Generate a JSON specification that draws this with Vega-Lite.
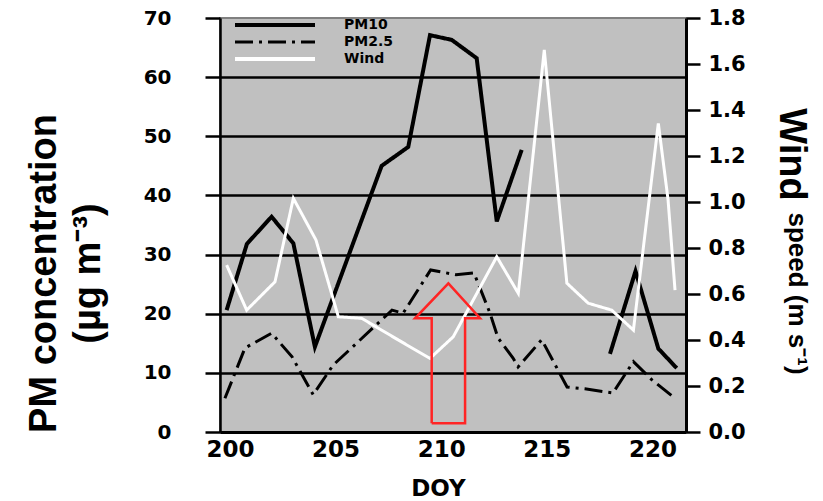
{
  "$schema": "https://vega.github.io/schema/vega-lite/v6.json",
  "width": 466,
  "height": 414,
  "autosize": "none",
  "padding": {"left": 220, "top": 18, "right": 137, "bottom": 69},
  "background": "white",
  "config": {
    "view": {"fill": "#c0c0c0", "stroke": "#808080", "strokeWidth": 2},
    "axis": {"labelColor": "black", "titleColor": "black", "domainColor": "black", "tickColor": "black", "labelFont": "DejaVu Sans", "labelFontWeight": "bold"}
  },
  "datasets": {
    "series": [
      {"series": "PM10", "doy": 199.84, "value": 20.6},
      {"series": "PM10", "doy": 200.8, "value": 31.8},
      {"series": "PM10", "doy": 201.97, "value": 36.4},
      {"series": "PM10", "doy": 203.0, "value": 31.9},
      {"series": "PM10", "doy": 204.02, "value": 14.4},
      {"series": "PM10", "doy": 207.18, "value": 45.0},
      {"series": "PM10", "doy": 208.44, "value": 48.2},
      {"series": "PM10", "doy": 209.47, "value": 67.1},
      {"series": "PM10", "doy": 210.5, "value": 66.3},
      {"series": "PM10", "doy": 211.68, "value": 63.2},
      {"series": "PM10", "doy": 212.63, "value": 35.6},
      {"series": "PM10", "doy": 213.81, "value": 47.7},
      {"series": "PM10", "doy": 215.9, "value": null},
      {"series": "PM10", "doy": 217.99, "value": 13.2},
      {"series": "PM10", "doy": 219.2, "value": 27.2},
      {"series": "PM10", "doy": 220.28, "value": 14.1},
      {"series": "PM10", "doy": 221.15, "value": 10.8},
      {"series": "PM2.5", "doy": 199.76, "value": 5.7},
      {"series": "PM2.5", "doy": 200.71, "value": 14.2},
      {"series": "PM2.5", "doy": 201.97, "value": 16.7},
      {"series": "PM2.5", "doy": 202.94, "value": 12.7},
      {"series": "PM2.5", "doy": 203.94, "value": 6.3},
      {"series": "PM2.5", "doy": 204.88, "value": 11.3},
      {"series": "PM2.5", "doy": 207.67, "value": 20.6},
      {"series": "PM2.5", "doy": 208.2, "value": 20.1},
      {"series": "PM2.5", "doy": 209.5, "value": 27.4},
      {"series": "PM2.5", "doy": 210.7, "value": 26.6},
      {"series": "PM2.5", "doy": 211.55, "value": 26.9},
      {"series": "PM2.5", "doy": 212.31, "value": 20.1},
      {"series": "PM2.5", "doy": 212.69, "value": 15.9},
      {"series": "PM2.5", "doy": 213.4, "value": 12.5},
      {"series": "PM2.5", "doy": 213.64, "value": 11.0},
      {"series": "PM2.5", "doy": 214.76, "value": 15.6},
      {"series": "PM2.5", "doy": 215.96, "value": 7.6},
      {"series": "PM2.5", "doy": 216.8, "value": 7.3},
      {"series": "PM2.5", "doy": 218.13, "value": 6.6},
      {"series": "PM2.5", "doy": 219.1, "value": 11.9},
      {"series": "PM2.5", "doy": 219.98, "value": 8.8},
      {"series": "PM2.5", "doy": 221.07, "value": 5.7},
      {"series": "Wind", "doy": 199.84, "value": 0.726},
      {"series": "Wind", "doy": 200.79, "value": 0.53},
      {"series": "Wind", "doy": 202.13, "value": 0.653},
      {"series": "Wind", "doy": 203.0, "value": 1.016},
      {"series": "Wind", "doy": 204.07, "value": 0.835},
      {"series": "Wind", "doy": 205.13, "value": 0.501},
      {"series": "Wind", "doy": 206.24, "value": 0.494},
      {"series": "Wind", "doy": 207.97, "value": 0.4},
      {"series": "Wind", "doy": 209.47, "value": 0.32},
      {"series": "Wind", "doy": 210.57, "value": 0.414},
      {"series": "Wind", "doy": 212.63, "value": 0.762},
      {"series": "Wind", "doy": 213.65, "value": 0.603},
      {"series": "Wind", "doy": 214.88, "value": 1.661},
      {"series": "Wind", "doy": 215.95, "value": 0.647},
      {"series": "Wind", "doy": 216.96, "value": 0.56},
      {"series": "Wind", "doy": 218.07, "value": 0.53},
      {"series": "Wind", "doy": 219.1, "value": 0.443},
      {"series": "Wind", "doy": 220.28, "value": 1.342},
      {"series": "Wind", "doy": 220.74, "value": 1.01},
      {"series": "Wind", "doy": 221.07, "value": 0.617}
    ],
    "arrow": [
      {"i": 0, "doy": 209.55, "value": 1.47},
      {"i": 1, "doy": 209.55, "value": 19.23},
      {"i": 2, "doy": 208.76, "value": 19.23},
      {"i": 3, "doy": 210.34, "value": 25.14},
      {"i": 4, "doy": 211.84, "value": 19.23},
      {"i": 5, "doy": 211.13, "value": 19.23},
      {"i": 6, "doy": 211.13, "value": 1.47},
      {"i": 7, "doy": 209.55, "value": 1.47}
    ]
  },
  "layer": [
    {
      "data": {"name": "series"},
      "encoding": {
        "x": {
          "field": "doy", "type": "quantitative",
          "scale": {"domain": [199.527, 221.59], "nice": false, "zero": false},
          "axis": {
            "values": [200, 205, 210, 215, 220], "ticks": false, "grid": false,
            "domainWidth": 3, "labelFontSize": 23, "labelPadding": 6, "labelFlush": false,
            "title": "DOY", "titleFont": "DejaVu Sans", "titleFontSize": 23, "titleFontWeight": "bold",
            "titleX": 218, "titleY": 63, "titleBaseline": "alphabetic", "titleAlign": "center"
          }
        },
        "y": {
          "field": "value", "type": "quantitative",
          "scale": {"domain": [0, 70], "nice": false},
          "axis": {
            "orient": "left", "values": [0, 10, 20, 30, 40, 50, 60, 70], "format": "d",
            "grid": true,
            "gridColor": {"condition": {"test": "datum.value >= 70", "value": "transparent"}, "value": "black"},
            "gridWidth": 2.5, "gridOpacity": 1,
            "domainWidth": 2.5, "tickSize": 15, "tickWidth": 2.5,
            "labelFontSize": 20, "labelPadding": 34,
            "title": ["PM concentration", "(µg m⁻³)"],
            "titleFont": "Liberation Sans", "titleFontSize": 38, "titleFontWeight": "bold",
            "titleAngle": -90, "titleX": -165, "titleY": 255, "titleAlign": "center",
            "titleBaseline": "alphabetic", "titleLineHeight": 44
          }
        },
        "color": {
          "field": "series", "type": "nominal",
          "scale": {"domain": ["PM10", "PM2.5", "Wind"], "range": ["#000000", "#000000", "#ffffff"]},
          "legend": {
            "orient": "none", "legendX": 48, "legendY": 0, "title": null,
            "symbolType": "M-4,0H4", "symbolSize": 400, "symbolStrokeWidth": 4,
            "labelOffset": 62, "labelFont": "DejaVu Sans", "labelFontSize": 14, "labelFontWeight": "bold",
            "labelColor": "black", "rowPadding": 2, "padding": 0,
            "encode": {"symbols": {"update": {
              "stroke": {"signal": "datum.value === 'PM10' ? '#6e6e6e' : datum.value === 'Wind' ? '#ffffff' : '#000000'"},
              "strokeWidth": {"signal": "datum.value === 'PM2.5' ? 3 : 4"}
            }}}
          }
        },
        "strokeDash": {
          "field": "series", "type": "nominal",
          "scale": {"domain": ["PM10", "PM2.5", "Wind"], "range": [[1, 0], [18, 6, 3, 6], [1, 0]]},
          "legend": {
            "orient": "none", "legendX": 48, "legendY": 0, "title": null,
            "symbolType": "M-4,0H4", "symbolSize": 400, "symbolStrokeWidth": 4,
            "labelOffset": 62, "labelFont": "DejaVu Sans", "labelFontSize": 14, "labelFontWeight": "bold",
            "labelColor": "black", "rowPadding": 2, "padding": 0
          }
        }
      },
      "layer": [
        {
          "transform": [{"filter": "datum.series === 'PM10'"}],
          "mark": {"type": "line", "strokeWidth": 4, "invalid": "break-paths-show-domains"}
        },
        {
          "transform": [{"filter": "datum.series === 'PM2.5'"}],
          "mark": {"type": "line", "strokeWidth": 3}
        }
      ]
    },
    {
      "data": {"name": "series"},
      "transform": [{"filter": "datum.series === 'Wind'"}],
      "mark": {"type": "line", "strokeWidth": 3},
      "encoding": {
        "x": {"field": "doy", "type": "quantitative", "scale": {"domain": [199.527, 221.59], "nice": false, "zero": false}},
        "y": {
          "field": "value", "type": "quantitative",
          "scale": {"domain": [0, 1.8], "nice": false},
          "axis": {
            "orient": "right", "values": [0, 0.2, 0.4, 0.6, 0.8, 1, 1.2, 1.4, 1.6, 1.8], "format": ".1f",
            "grid": false, "domainWidth": 3, "tickSize": 14, "tickWidth": 2.5,
            "labelFontSize": 21, "labelPadding": 8,
            "title": "Wind", "titleFont": "Liberation Sans", "titleFontSize": 38, "titleFontWeight": "bold",
            "titleAngle": 90, "titleX": 93, "titleY": 136, "titleAlign": "center", "titleBaseline": "alphabetic"
          }
        },
        "color": {"field": "series", "type": "nominal"},
        "strokeDash": {"field": "series", "type": "nominal"}
      }
    },
    {
      "data": {"name": "arrow"},
      "mark": {"type": "line", "color": "#ff2424", "strokeWidth": 2.5},
      "encoding": {
        "x": {"field": "doy", "type": "quantitative", "scale": {"domain": [199.527, 221.59], "nice": false, "zero": false}},
        "y": {
          "field": "value", "type": "quantitative",
          "scale": {"domain": [0, 70], "nice": false},
          "axis": {
            "orient": "right", "labels": false, "ticks": false, "domain": false, "grid": false,
            "title": "speed (m s⁻¹)", "titleFont": "Liberation Sans", "titleFontSize": 26, "titleFontWeight": "bold",
            "titleAngle": 90, "titleX": 102, "titleY": 275, "titleAlign": "center", "titleBaseline": "alphabetic"
          }
        },
        "order": {"field": "i", "type": "quantitative"}
      }
    }
  ],
  "resolve": {"scale": {"y": "independent"}}
}
